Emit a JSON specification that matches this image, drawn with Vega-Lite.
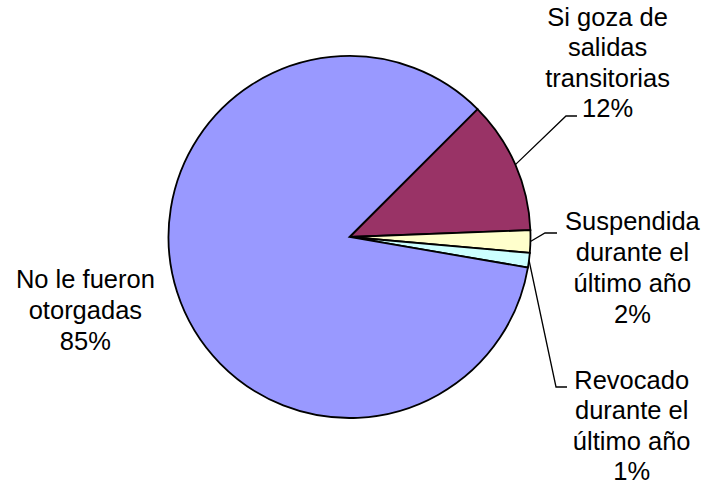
{
  "$schema": "https://vega.github.io/schema/vega-lite/v6.json",
  "width": 699,
  "height": 474,
  "autosize": "none",
  "padding": {"left": 0, "top": 0, "right": 16, "bottom": 20},
  "background": "white",
  "config": {"view": {"stroke": null}},
  "data": {
    "values": [
      {"category": "Si goza de salidas transitorias", "label": "Si goza de\nsalidas\ntransitorias", "value": 11.9, "order": 1},
      {"category": "Suspendida durante el último año", "label": "Suspendida\ndurante el\núltimo año", "value": 2.0, "order": 2},
      {"category": "Revocado durante el último año", "label": "Revocado\ndurante el\núltimo año", "value": 1.3, "order": 3},
      {"category": "No le fueron otorgadas", "label": "No le fueron\notorgadas", "value": 84.8, "order": 4}
    ]
  },
  "transform": [
    {"stack": "value", "groupby": [], "sort": [{"field": "order", "order": "ascending"}], "as": ["v0", "v1"]},
    {"calculate": "(datum.v0 + datum.v1) / 2", "as": "mid"},
    {"calculate": "datum.label + '\\n' + format(datum.value / 100, '.0%')", "as": "text"},
    {"calculate": "PI / 180 * (45 + 3.6 * datum.mid)", "as": "ang"}
  ],
  "layer": [
    {
      "mark": {"type": "arc", "outerRadius": 181, "stroke": "#000000", "strokeWidth": 1.8},
      "encoding": {
        "theta": {"field": "v0", "type": "quantitative", "stack": null, "scale": {"domain": [0, 100], "range": [0.785398, 7.068583]}},
        "theta2": {"field": "v1"},
        "color": {
          "field": "category", "type": "nominal", "legend": null,
          "scale": {
            "domain": ["Si goza de salidas transitorias", "Suspendida durante el último año", "Revocado durante el último año", "No le fueron otorgadas"],
            "range": ["#993366", "#FFFFCC", "#CCFFFF", "#9999FF"]
          }
        }
      }
    },
    {
      "transform": [{"filter": "datum.order === 1"}],
      "mark": {"type": "text", "radius": 310, "dx": -26, "dy": -87, "font": "Liberation Sans", "fontSize": 25.5, "lineBreak": "\n", "lineHeight": 30.4, "align": "center", "baseline": "alphabetic", "color": "#000000"},
      "encoding": {
        "theta": {"field": "mid", "type": "quantitative", "stack": null},
        "text": {"field": "text"}
      }
    },
    {
      "transform": [{"filter": "datum.order === 2"}],
      "mark": {"type": "text", "radius": 283, "dx": 0, "dy": -14, "font": "Liberation Sans", "fontSize": 25.5, "lineBreak": "\n", "lineHeight": 30.8, "align": "center", "baseline": "alphabetic", "color": "#000000"},
      "encoding": {
        "theta": {"field": "mid", "type": "quantitative", "stack": null},
        "text": {"field": "text"}
      }
    },
    {
      "transform": [{"filter": "datum.order === 3"}],
      "mark": {"type": "text", "radius": 342, "dx": -57, "dy": 108, "font": "Liberation Sans", "fontSize": 25.5, "lineBreak": "\n", "lineHeight": 30.4, "align": "center", "baseline": "alphabetic", "color": "#000000"},
      "encoding": {
        "theta": {"field": "mid", "type": "quantitative", "stack": null},
        "text": {"field": "text"}
      }
    },
    {
      "transform": [{"filter": "datum.order === 4"}],
      "mark": {"type": "text", "radius": 274, "dx": -3, "dy": -32, "font": "Liberation Sans", "fontSize": 25.5, "lineBreak": "\n", "lineHeight": 30.8, "align": "center", "baseline": "alphabetic", "color": "#000000"},
      "encoding": {
        "theta": {"field": "mid", "type": "quantitative", "stack": null},
        "text": {"field": "text"}
      }
    },
    {
      "transform": [
        {"filter": "datum.order === 1"},
        {"calculate": "[sin(datum.ang), 1.1961, 1.2569]", "as": "px"},
        {"calculate": "[cos(datum.ang), 0.6685, 0.6685]", "as": "py"},
        {"calculate": "[0, 1, 2]", "as": "pt"},
        {"flatten": ["px", "py", "pt"]}
      ],
      "mark": {"type": "line", "color": "#000000", "strokeWidth": 1.3},
      "encoding": {
        "x": {"field": "px", "type": "quantitative", "scale": {"domain": [-1.93094, 1.93094], "nice": false, "zero": false}, "axis": null},
        "y": {"field": "py", "type": "quantitative", "scale": {"domain": [-1.30939, 1.30939], "nice": false, "zero": false}, "axis": null},
        "order": {"field": "pt", "type": "quantitative"}
      }
    },
    {
      "transform": [
        {"filter": "datum.order === 2"},
        {"calculate": "[sin(datum.ang), 1.0801, 1.1464]", "as": "px"},
        {"calculate": "[cos(datum.ang), 0.0221, 0.0221]", "as": "py"},
        {"calculate": "[0, 1, 2]", "as": "pt"},
        {"flatten": ["px", "py", "pt"]}
      ],
      "mark": {"type": "line", "color": "#000000", "strokeWidth": 1.3},
      "encoding": {
        "x": {"field": "px", "type": "quantitative", "scale": {"domain": [-1.93094, 1.93094], "nice": false, "zero": false}, "axis": null},
        "y": {"field": "py", "type": "quantitative", "scale": {"domain": [-1.30939, 1.30939], "nice": false, "zero": false}, "axis": null},
        "order": {"field": "pt", "type": "quantitative"}
      }
    },
    {
      "transform": [
        {"filter": "datum.order === 3"},
        {"calculate": "[sin(datum.ang), 1.1409, 1.2017]", "as": "px"},
        {"calculate": "[cos(datum.ang), -0.8287, -0.8287]", "as": "py"},
        {"calculate": "[0, 1, 2]", "as": "pt"},
        {"flatten": ["px", "py", "pt"]}
      ],
      "mark": {"type": "line", "color": "#000000", "strokeWidth": 1.3},
      "encoding": {
        "x": {"field": "px", "type": "quantitative", "scale": {"domain": [-1.93094, 1.93094], "nice": false, "zero": false}, "axis": null},
        "y": {"field": "py", "type": "quantitative", "scale": {"domain": [-1.30939, 1.30939], "nice": false, "zero": false}, "axis": null},
        "order": {"field": "pt", "type": "quantitative"}
      }
    }
  ]
}
